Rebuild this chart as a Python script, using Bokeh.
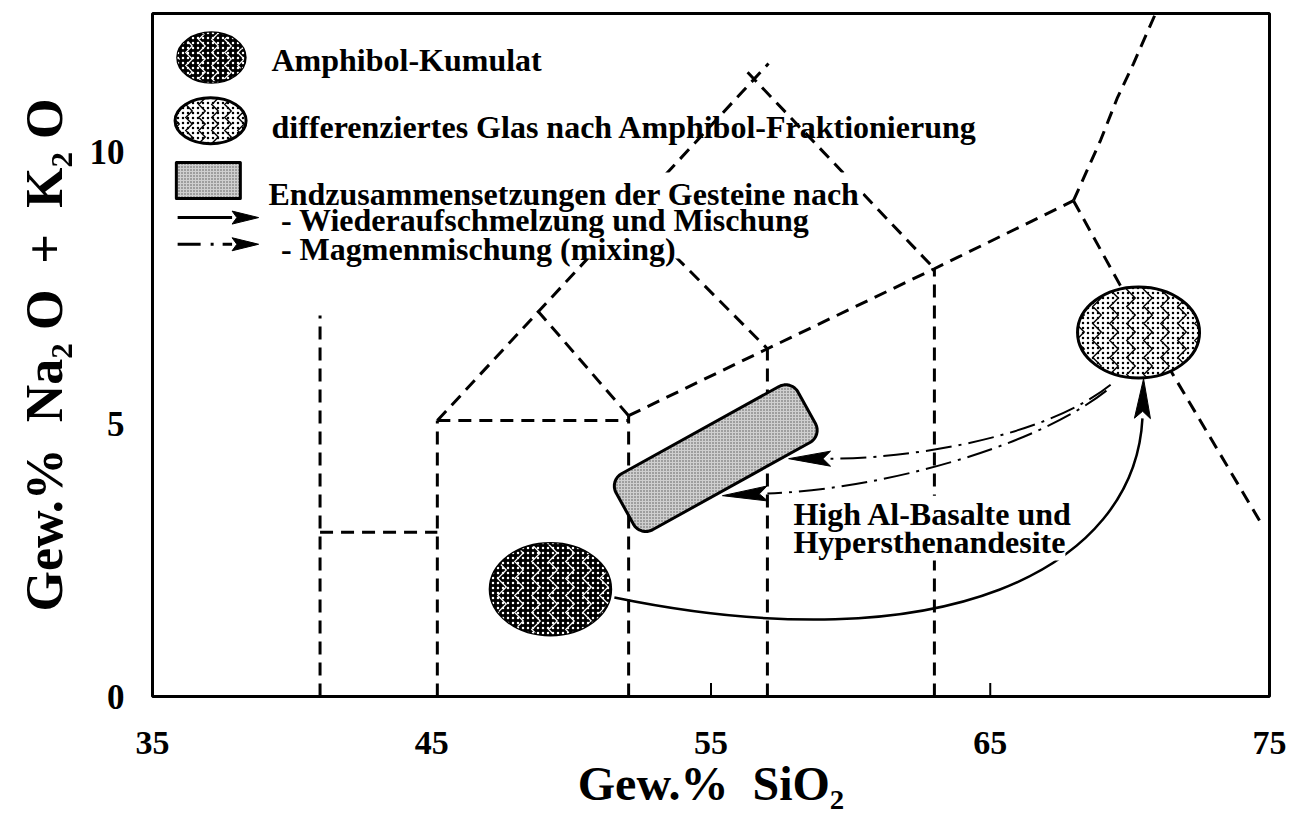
import math
from bokeh.plotting import figure
from bokeh.models import Range1d, FixedTicker, Label
from bokeh.embed import file_html
from bokeh.resources import INLINE

# ---------------- data ----------------
x_range_vals = (35, 75)          # Gew.% SiO2
y_range_vals = (0, 12.55)        # Gew.% Na2O + K2O
x_ticks = [35, 45, 55, 65, 75]
y_ticks = [0, 5, 10]
x_inner_ticks = [55, 65]

# TAS field boundaries (SiO2, Na2O+K2O)
tas_x = [
    [41.0, 41.0], [41.0, 45.2], [45.2, 45.2], [45.2, 52.05], [52.05, 52.05],
    [45.2, 57.06], [48.79, 52.05], [52.05, 57.02, 63.0, 67.98],
    [57.02, 57.02], [63.0, 63.0], [56.31, 63.0], [52.12, 57.02],
    [67.98, 68.95, 69.56, 70.13, 70.92], [67.98, 69.66, 71.63, 74.75],
]
tas_y = [
    [0.0, 7.0], [3.02, 3.02], [0.0, 5.07], [5.07, 5.07], [0.0, 5.16],
    [5.07, 11.63], [7.09, 5.16], [5.16, 6.39, 7.86, 9.11],
    [0.0, 6.39], [0.0, 7.86], [11.47, 7.86], [8.91, 6.39],
    [9.11, 10.22, 11.01, 11.63, 12.55], [9.11, 7.55, 5.84, 3.14],
]

# compositions
cumulate_sio2, cumulate_alk = 49.25, 1.97          # Amphibol-Kumulat
glass_sio2, glass_alk = 70.31, 6.69                # differenziertes Glas
end_sio2, end_alk = 55.17, 4.38                    # Endzusammensetzungen

# arrows: start, control1, control2, end(base of head), tip
remelt_arrow = [(51.54, 1.82), (63.36, 0.57), (70.17, 2.35), (70.45, 5.11), (70.49, 5.84)]
mix_arrow_1 = [(69.31, 5.73), (66.80, 4.70), (61.79, 4.37), (59.28, 4.37), (57.78, 4.37)]
mix_arrow_2 = [(69.16, 5.62), (66.44, 4.52), (60.71, 3.79), (57.02, 3.73), (55.41, 3.69)]

legend_rows = [
    "Amphibol-Kumulat",
    "differenziertes Glas nach Amphibol-Fraktionierung",
    "Endzusammensetzungen der Gesteine nach",
    "- Wiederaufschmelzung und Mischung",
    "- Magmenmischung (mixing)",
]
note_rows = ["High Al-Basalte und", "Hypersthenandesite"]
x_title = "Gew.%\u00a0 SiO\u2082"
y_title = "Gew.%\u00a0 Na\u2082\u00a0O\u00a0 +\u00a0 K\u2082\u00a0O"

# ---------------- figure ----------------
W, H = 1299, 821
ML, MR, MT, MB = 152, 30, 13, 125
PX = (W - ML - MR) / (x_range_vals[1] - x_range_vals[0])
PY = (H - MT - MB) / (y_range_vals[1] - y_range_vals[0])

FONT = "Liberation Serif"

p = figure(width=W, height=H, x_range=Range1d(*x_range_vals), y_range=Range1d(*y_range_vals),
           output_backend="svg", toolbar_location=None,
           min_border_left=ML, min_border_right=MR, min_border_top=MT, min_border_bottom=MB)
p.xgrid.visible = False
p.ygrid.visible = False
p.outline_line_color = "black"
p.outline_line_width = 3
p.background_fill_color = "white"
p.border_fill_color = "white"

for ax, ticks, size, standoff in ((p.xaxis, x_ticks, "34px", 29), (p.yaxis, y_ticks, "35px", 22)):
    ax.ticker = FixedTicker(ticks=ticks)
    ax.axis_line_color = None
    ax.major_tick_line_color = None
    ax.minor_tick_line_color = None
    ax.major_label_text_font = FONT
    ax.major_label_text_font_style = "bold"
    ax.major_label_text_font_size = size
    ax.major_label_text_color = "black"
    ax.major_label_standoff = standoff
    ax.axis_label_text_font = FONT
    ax.axis_label_text_font_style = "bold"
    ax.axis_label_text_color = "black"

p.xaxis.axis_label = x_title
p.xaxis.axis_label_text_font_size = "48px"
p.xaxis.axis_label_standoff = 0
p.yaxis.axis_label = y_title
p.yaxis.axis_label_text_font_size = "52px"
p.yaxis.axis_label_standoff = 14

# inner tick marks
p.segment(x0=x_inner_ticks, y0=[0, 0], x1=x_inner_ticks, y1=[0.25, 0.25],
          line_color="black", line_width=2)

# TAS boundaries
p.multi_line(xs=tas_x, ys=tas_y, line_color="black", line_width=3, line_dash="13 8")

# white masks behind the lower legend rows (the original text blanks the lines)
p.quad(left=[39.08, 40.23, 40.23], right=[60.43, 58.63, 53.91],
       top=[9.63, 9.13, 8.62], bottom=[9.10, 8.62, 8.05],
       fill_color="white", line_color=None)


def bez(pts, dash, width):
    (x0, y0), (cx0, cy0), (cx1, cy1), (x1, y1), _ = pts
    p.bezier(x0=[x0], y0=[y0], cx0=[cx0], cy0=[cy0], cx1=[cx1], cy1=[cy1], x1=[x1], y1=[y1],
             line_color="black", line_width=width, line_dash=dash)


def head(bx, by, tx, ty, hw, notch=0.18):
    dx, dy = (tx - bx) * PX, (ty - by) * PY
    L = math.hypot(dx, dy)
    nx, ny = -dy / L, dx / L
    lx, ly = bx + nx * hw / PX, by + ny * hw / PY
    rx, ry = bx - nx * hw / PX, by - ny * hw / PY
    mx, my = bx + (tx - bx) * notch, by + (ty - by) * notch
    p.patch([tx, lx, mx, rx], [ty, ly, my, ry], fill_color="black", line_color="black", line_width=1)


bez(remelt_arrow, "solid", 2.5)
head(*remelt_arrow[3], *remelt_arrow[4], 8)
for arr in (mix_arrow_1, mix_arrow_2):
    bez(arr, "26 7 3 7", 2)
    head(*arr[3], *arr[4], 7.5)


def rounded_rect(cx, cy, w, h, r, ang_deg, n=8):
    pts = []
    corners = [(w / 2 - r, h / 2 - r, 0), (-w / 2 + r, h / 2 - r, 90),
               (-w / 2 + r, -h / 2 + r, 180), (w / 2 - r, -h / 2 + r, 270)]
    for ccx, ccy, a0 in corners:
        for k in range(n + 1):
            a = math.radians(a0 + 90 * k / n)
            pts.append((ccx + r * math.cos(a), ccy + r * math.sin(a)))
    t = math.radians(ang_deg)
    xs = [cx + (u * math.cos(t) - v * math.sin(t)) / PX for u, v in pts]
    ys = [cy + (u * math.sin(t) + v * math.cos(t)) / PY for u, v in pts]
    return xs, ys


def dark_ellipse(x, y, w, h, lw=2.5, scale=17):
    p.ellipse(x=[x], y=[y], width=[w], height=[h], width_units="screen", height_units="screen",
              fill_color="black", line_color="black", line_width=lw,
              hatch_pattern="vertical_wave", hatch_color="white", hatch_scale=scale, hatch_weight=1.2)
    p.ellipse(x=[x], y=[y], width=[w], height=[h], width_units="screen", height_units="screen",
              fill_alpha=0, line_color=None,
              hatch_pattern="dot", hatch_color="white", hatch_scale=5, hatch_weight=0.7)


def light_ellipse(x, y, w, h, lw=3, scale=17):
    p.ellipse(x=[x], y=[y], width=[w], height=[h], width_units="screen", height_units="screen",
              fill_color="white", line_color=None,
              hatch_pattern="vertical_wave", hatch_color="black", hatch_scale=scale, hatch_weight=1.4)
    p.ellipse(x=[x], y=[y], width=[w], height=[h], width_units="screen", height_units="screen",
              fill_alpha=0, line_color="black", line_width=lw,
              hatch_pattern="dot", hatch_color="black", hatch_scale=5, hatch_weight=0.8)


# end-composition field
rx, ry = rounded_rect(end_sio2, end_alk, 208, 64, 14, 29)
p.patch(rx, ry, fill_color="#cfcfcf", line_color="black", line_width=3,
        hatch_pattern="dot", hatch_color="#555555", hatch_scale=3, hatch_weight=0.8)

dark_ellipse(cumulate_sio2, cumulate_alk, 121, 92)
light_ellipse(glass_sio2, glass_alk, 122, 91)

# ---------------- legend ----------------
dark_ellipse(37.11, 11.74, 68, 50, scale=13)
light_ellipse(37.08, 10.58, 71, 46, scale=13)
lx, ly = rounded_rect(37.0, 9.48, 64, 36, 0.01, 0, n=1)
p.patch(lx, ly, fill_color="#cfcfcf", line_color="black", line_width=3,
        hatch_pattern="dot", hatch_color="#555555", hatch_scale=3, hatch_weight=0.8)
p.line([35.9, 37.85], [8.80, 8.80], line_color="black", line_width=3)
head(37.85, 8.80, 38.8, 8.80, 6.5)
p.line([35.9, 37.85], [8.31, 8.31], line_color="black", line_width=3, line_dash="23 10 3 9")
head(37.85, 8.31, 38.8, 8.31, 6.5)

row_pos = [(39.26, 11.70), (39.26, 10.46), (39.15, 9.24), (39.60, 8.75), (39.60, 8.23)]
for txt, (x, y) in zip(legend_rows, row_pos):
    p.add_layout(Label(x=x, y=y, text=txt, text_font=FONT, text_font_style="bold",
                       text_color="black", text_font_size="32px", text_baseline="alphabetic"))

for txt, y in reversed(list(zip(note_rows, (3.36, 2.83)))):
    p.add_layout(Label(x=57.95, y=y, text=txt, text_font=FONT, text_font_style="bold",
                       text_color="black", text_font_size="32px", text_baseline="alphabetic",
                       background_fill_color="white"))

open("out.html", "w").write(file_html(p, INLINE))
